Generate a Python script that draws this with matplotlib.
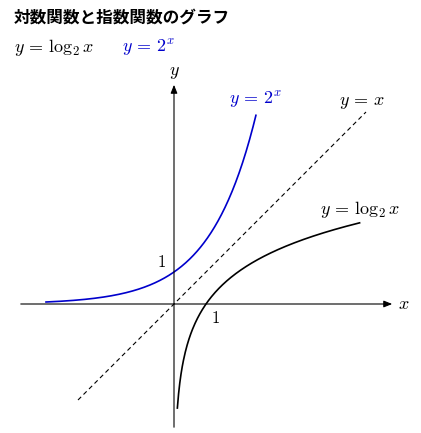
import numpy as np
import matplotlib
matplotlib.use("Agg")
import matplotlib.pyplot as plt

plt.rcParams['font.family'] = ['Noto Sans CJK JP', 'DejaVu Sans']
plt.rcParams['mathtext.fontset'] = 'cm'

title = "対数関数と指数関数のグラフ"
exp_x_range = [-4.0, 2.56]
log_x_range = [0.105, 5.8]
diag_range = [-3.0, 6.0]
BLUE = '#0000cc'

W, H, U = 421, 433, 32.0
ox, oy = 174, 304
fig = plt.figure(figsize=(4.21, 4.33), dpi=100)
ax = fig.add_axes([0, 0, 1, 1])
ax.set_xlim(-ox / U, (W - ox) / U)
ax.set_ylim(-(H - oy) / U, oy / U)
ax.axis('off')

ax.annotate('', xy=((395 - ox) / U, 0), xytext=((18 - ox) / U, 0),
            arrowprops=dict(arrowstyle='-|>,head_length=0.5,head_width=0.2', color='black', lw=0.8))
ax.annotate('', xy=(0, (oy - 82) / U), xytext=(0, -(430 - oy) / U),
            arrowprops=dict(arrowstyle='-|>,head_length=0.5,head_width=0.2', color='black', lw=0.8))

xe = np.linspace(*exp_x_range, 300)
ax.plot(xe, 2 ** xe, color=BLUE, lw=1.2)
xl = np.linspace(*log_x_range, 300)
ax.plot(xl, np.log2(xl), color='black', lw=1.2)
ax.plot(diag_range, diag_range, color='black', lw=0.8, ls=(0, (4, 3)))

fs = 13
ax.text((404 - ox) / U, 0, r'$x$', fontsize=fs, ha='center', va='center')
ax.text(0, (oy - 72) / U, r'$y$', fontsize=fs, ha='center', va='center')
ax.text(-0.4, 1.3, r'$1$', fontsize=12, ha='center', va='center')
ax.text(1.3, -0.45, r'$1$', fontsize=12, ha='center', va='center')
ax.text((255 - ox) / U, (oy - 100) / U, r'$y\,=\,2^x$', color=BLUE, fontsize=fs, ha='center', va='center')
ax.text((362 - ox) / U, (oy - 102) / U, r'$y\,=\,x$', fontsize=fs, ha='center', va='center')
ax.text((360 - ox) / U, (oy - 210) / U, r'$y\,=\,\log_2 x$', fontsize=fs, ha='center', va='center')

fig.text(14 / W, 1 - 18 / H, title, fontsize=12, fontweight='bold', ha='left', va='center')
fig.text(14 / W, 1 - 48 / H, r'$y\,=\,\log_2 x$', fontsize=fs, ha='left', va='center')
fig.text(122 / W, 1 - 48 / H, r'$y\,=\,2^x$', fontsize=fs, color=BLUE, ha='left', va='center')

fig.savefig('out.png', dpi=100)
